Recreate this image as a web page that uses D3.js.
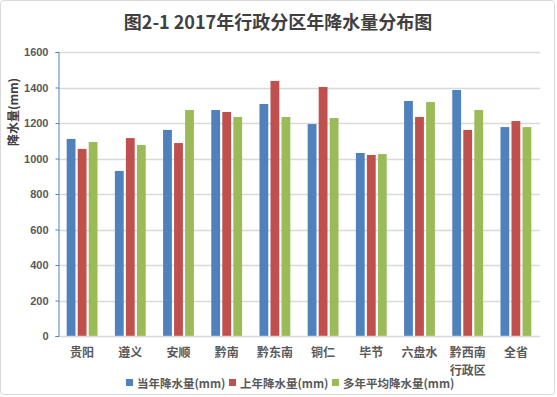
<!DOCTYPE html>
<html>
<head>
<meta charset="utf-8">
<script src="https://cdn.jsdelivr.net/npm/d3@7"></script>
<style>
  body { margin: 0; background: #fff; }
  svg { display: block; font-family: "Noto Sans CJK SC", "Liberation Sans", sans-serif; }
</style>
</head>
<body>
<svg id="chart" width="557" height="397"></svg>
<script>
const categories = ["贵阳", "遵义", "安顺", "黔南", "黔东南", "铜仁", "毕节", "六盘水", "黔西南\n行政区", "全省"];
const seriesNames = ["当年降水量(mm)", "上年降水量(mm)", "多年平均降水量(mm)"];
const thisYear = [1110, 930, 1161, 1273, 1307, 1194, 1031, 1324, 1386, 1177];
const lastYear = [1054, 1115, 1087, 1262, 1437, 1403, 1020, 1234, 1161, 1211];
const average  = [1093, 1076, 1273, 1234, 1234, 1228, 1025, 1318, 1273, 1177];
const yTicks = [0, 200, 400, 600, 800, 1000, 1200, 1400, 1600];
const colors = ["#4f81bd", "#c0504d", "#9bbb59"];

const series = [thisYear, lastYear, average];
const svg = d3.select("#chart");
const W = 557, H = 397;
const margin = { left: 58, right: 17, top: 52, bottom: 61 };

// outer frame
svg.append("rect")
  .attr("x", 0.5).attr("y", 0.5).attr("width", W - 3).attr("height", H - 3)
  .attr("rx", 3).attr("fill", "#fff").attr("stroke", "#d9d9d9");

// title
svg.append("text")
  .attr("x", 278).attr("y", 29)
  .attr("text-anchor", "middle")
  .attr("font-size", 18).attr("font-weight", "bold")
  .attr("fill", "#404040")
  .text("图2-1 2017年行政分区年降水量分布图");

const x = d3.scaleBand()
  .domain(categories)
  .range([margin.left, W - margin.right])
  .paddingInner(0.36).paddingOuter(0.18);

const xInner = d3.scaleBand()
  .domain(d3.range(series.length))
  .range([0, x.bandwidth()])
  .paddingInner(0.2);

const y = d3.scaleLinear()
  .domain([0, 1600])
  .range([H - margin.bottom, margin.top]);

// grid lines
svg.append("g")
  .selectAll("line")
  .data(yTicks.filter(d => d > 0))
  .join("line")
  .attr("x1", margin.left).attr("x2", W - margin.right)
  .attr("y1", d => Math.round(y(d)) + 0.5).attr("y2", d => Math.round(y(d)) + 0.5)
  .attr("stroke", "#d9d9d9").attr("stroke-width", 1.3);

// bars
const groups = svg.append("g")
  .selectAll("g")
  .data(categories)
  .join("g")
  .attr("transform", d => `translate(${x(d)},0)`);

groups.selectAll("rect")
  .data((d, i) => series.map((s, k) => ({ k, v: s[i] })))
  .join("rect")
  .attr("x", d => xInner(d.k))
  .attr("width", xInner.bandwidth())
  .attr("y", d => y(d.v))
  .attr("height", d => y(0) - y(d.v))
  .attr("fill", d => colors[d.k]);

// x axis line
svg.append("line")
  .attr("x1", margin.left).attr("x2", W - margin.right)
  .attr("y1", Math.round(y(0)) + 0.5).attr("y2", Math.round(y(0)) + 0.5)
  .attr("stroke", "#d9d9d9").attr("stroke-width", 1.3);

// y axis
const yAxis = svg.append("g")
  .attr("transform", `translate(${margin.left + 0.5},0)`)
  .call(d3.axisLeft(y).tickValues(yTicks).tickFormat(d3.format("d")).tickSize(3).tickPadding(7));
yAxis.select(".domain").attr("stroke", "#4f81bd");
yAxis.selectAll(".tick line").attr("stroke", "#4f81bd");
yAxis.selectAll(".tick text")
  .attr("fill", "#595959").attr("font-size", 11).attr("font-weight", "bold")
  .attr("font-family", "'Liberation Sans', Arial, sans-serif");

// y axis title
svg.append("text")
  .attr("transform", "translate(18,112) rotate(-90)")
  .attr("text-anchor", "middle")
  .attr("font-size", 12).attr("font-weight", "bold")
  .attr("fill", "#404040")
  .text("降水量(mm)");

// category labels
const labels = svg.append("g")
  .selectAll("text")
  .data(categories)
  .join("text")
  .attr("x", d => x(d) + x.bandwidth() / 2)
  .attr("y", 357)
  .attr("text-anchor", "middle")
  .attr("font-size", 12).attr("font-weight", "bold")
  .attr("fill", "#595959");
labels.selectAll("tspan")
  .data(d => d.split("\n"))
  .join("tspan")
  .attr("x", function() { return this.parentNode.getAttribute("x"); })
  .attr("dy", (d, i) => i === 0 ? 0 : 18)
  .text(d => d);

// legend
const legendX = [126, 229, 332];
const legend = svg.append("g")
  .selectAll("g")
  .data(seriesNames)
  .join("g")
  .attr("transform", (d, i) => `translate(${legendX[i]},383)`);
legend.append("rect")
  .attr("x", 0).attr("y", -4).attr("width", 7).attr("height", 7)
  .attr("fill", (d, i) => colors[i]);
legend.append("text")
  .attr("x", 11).attr("y", 4.5)
  .attr("font-size", 11.5).attr("font-weight", "bold")
  .attr("fill", "#595959")
  .text(d => d);
</script>
</body>
</html>
